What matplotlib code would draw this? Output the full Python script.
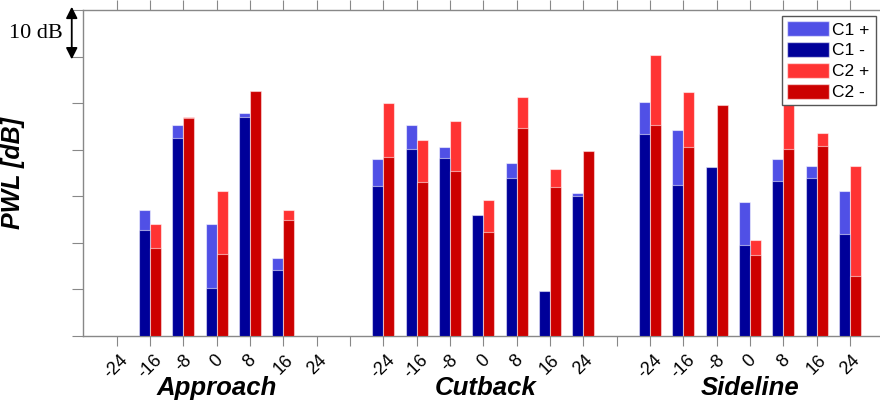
import numpy as np
import matplotlib
matplotlib.use("Agg")
import matplotlib.pyplot as plt
from matplotlib.patches import Patch

# Flight conditions and azimuth angles (deg)
conditions = ["Approach", "Cutback", "Sideline"]
angles = [-24, -16, -8, 0, 8, 16, 24]

# PWL in dB above the axis floor; NaN = not measured
c1_plus = {
    "Approach": [np.nan, 27.0, 45.4, 24.0, 47.9, 16.8, np.nan],
    "Cutback":  [38.0, 45.4, 40.6, 25.9, 37.1, 9.6, 30.8],
    "Sideline": [50.3, 44.3, 36.3, 28.8, 37.9, 36.6, 31.2],
}
c1_minus = {
    "Approach": [np.nan, 22.7, 42.6, 10.2, 47.0, 14.1, np.nan],
    "Cutback":  [32.2, 40.2, 38.3, 25.9, 34.0, 9.6, 30.0],
    "Sideline": [43.4, 32.5, 36.3, 19.6, 33.3, 34.0, 22.0],
}
c2_plus = {
    "Approach": [np.nan, 24.0, 47.0, 31.1, 52.7, 27.0, np.nan],
    "Cutback":  [50.0, 42.1, 46.1, 29.3, 51.3, 35.9, 39.7],
    "Sideline": [60.4, 52.3, 49.7, 20.6, 50.1, 43.6, 36.5],
}
c2_minus = {
    "Approach": [np.nan, 18.8, 46.8, 17.6, 52.6, 24.9, np.nan],
    "Cutback":  [38.4, 33.0, 35.4, 22.4, 44.6, 32.0, 39.7],
    "Sideline": [45.4, 40.6, 49.7, 17.3, 40.1, 40.8, 12.9],
}

col_c1p = "#5050e6"
col_c1m = "#000099"
col_c2p = "#ff3333"
col_c2m = "#cc0000"

fig = plt.figure(figsize=(8.8, 4.03), dpi=100)
ax = fig.add_axes([83.3 / 880, 1 - 336 / 403, 1 - 83.3 / 880, (336 - 10) / 403])

bw = 0.33
edge = dict(edgecolor=(1, 1, 1, 0.55), linewidth=0.8)
tick_pos, tick_lab = [], []
pos = 1
for gi, cond in enumerate(conditions):
    x = np.arange(pos, pos + len(angles))
    ax.bar(x - bw / 2, c1_plus[cond], bw, color=col_c1p, zorder=2, **edge)
    ax.bar(x - bw / 2, c1_minus[cond], bw, color=col_c1m, zorder=3, **edge)
    ax.bar(x + bw / 2, c2_plus[cond], bw, color=col_c2p, zorder=2, **edge)
    ax.bar(x + bw / 2, c2_minus[cond], bw, color=col_c2m, zorder=3, **edge)
    tick_pos += list(x)
    tick_lab += [str(a) for a in angles]
    ax.text(x.mean() + (0.08 if cond == "Cutback" else 0), -0.18, cond,
            transform=ax.get_xaxis_transform(),
            ha="center", va="baseline", fontsize=18.5, fontweight="bold",
            fontstyle="italic", family="Liberation Sans")
    pos += len(angles)
    if gi < len(conditions) - 1:
        tick_pos.append(pos)
        tick_lab.append("")
        pos += 1

ax.set_xlim(0, (880 - 83.3) / 33.33)
ax.set_ylim(0, 70)
ax.set_xticks(tick_pos)
ax.set_xticklabels(tick_lab, rotation=45, ha="center", va="top",
                   fontsize=13, family="Liberation Sans")
ax.set_yticks(np.arange(0, 71, 10))
ax.set_yticklabels([])
ax.tick_params(axis="x", which="both", direction="out", top=True,
               length=7, color="#888888", pad=4)
ax.tick_params(axis="y", direction="out", length=8, color="#888888")
for s in ["left", "top", "bottom"]:
    ax.spines[s].set_color("#888888")
    ax.spines[s].set_linewidth(1.0)
ax.spines["right"].set_visible(False)

ax.set_ylabel("PWL [dB]", fontsize=18, fontweight="bold", fontstyle="italic",
              family="Liberation Sans")
ax.yaxis.set_label_coords(-0.073, 0.5)

# 10 dB scale marker
ax.annotate("", xy=(-0.0145, 70.7), xytext=(-0.0145, 59.4),
            xycoords=("axes fraction", "data"), textcoords=("axes fraction", "data"),
            arrowprops=dict(arrowstyle="<|-|>", color="black", lw=1.3,
                            mutation_scale=17, shrinkA=0, shrinkB=0),
            annotation_clip=False)
ax.text(-0.026, 65.0, "10 dB", transform=ax.get_yaxis_transform(),
        ha="right", va="center", fontsize=16, family="Liberation Serif")

handles = [Patch(facecolor=c, edgecolor=(1, 1, 1, 0.55))
           for c in (col_c1p, col_c1m, col_c2p, col_c2m)]
leg = ax.legend(handles, ["C1 +", "C1 -", "C2 +", "C2 -"],
                loc="upper right",
                bbox_to_anchor=((876 - 83.3) / 796.7, 1 - 6 / 326),
                prop=dict(family="Liberation Sans", size=12.5),
                fancybox=False, framealpha=1, edgecolor="#555555",
                handlelength=2.4, handleheight=0.95, handletextpad=0.25,
                labelspacing=0.25, borderpad=0.3, borderaxespad=0)
leg.get_frame().set_linewidth(1.0)
for t in leg.get_texts():
    t.set_x(-1)

fig.savefig("out.png", dpi=100)
